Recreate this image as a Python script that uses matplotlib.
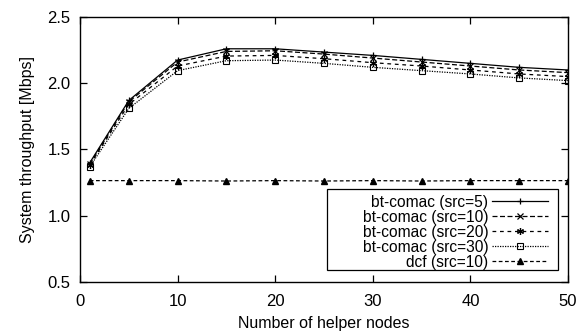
import matplotlib

matplotlib.use("Agg")
import matplotlib.pyplot as plt
from matplotlib.patches import Rectangle

plt.rcParams["font.family"] = ["Liberation Sans", "DejaVu Sans"]

helpers = [1, 5, 10, 15, 20, 25, 30, 35, 40, 45, 50]
comac_src5 = [1.40, 1.87, 2.175, 2.26, 2.26, 2.235, 2.21, 2.18, 2.15, 2.12, 2.10]
comac_src10 = [1.39, 1.86, 2.16, 2.24, 2.245, 2.22, 2.19, 2.16, 2.13, 2.10, 2.08]
comac_src20 = [1.385, 1.84, 2.13, 2.205, 2.21, 2.185, 2.155, 2.13, 2.10, 2.07, 2.05]
comac_src30 = [1.37, 1.81, 2.095, 2.17, 2.175, 2.15, 2.12, 2.095, 2.07, 2.04, 2.02]
dcf_src10 = [1.265, 1.265, 1.265, 1.262, 1.265, 1.262, 1.265, 1.262, 1.265, 1.265, 1.265]

fig = plt.figure(figsize=(5.87, 3.33), dpi=100)
ax = fig.add_axes([0.1363, 0.1532, 0.8313, 0.7958])

ax.plot(helpers, comac_src5, color="black", lw=0.9, ls="-", marker="+", ms=5, mew=0.9,
        label="bt-comac (src=5)")
ax.plot(helpers, comac_src10, color="black", lw=0.9, ls=(0, (4, 2)), marker="x", ms=4, mew=0.9,
        label="bt-comac (src=10)")
ax.plot(helpers, comac_src20, color="black", lw=0.9, ls=(0, (3, 3)), marker=(6, 2, 0), ms=5, mew=0.9,
        label="bt-comac (src=20)")
ax.plot(helpers, comac_src30, color="black", lw=0.9, ls=(0, (1, 1)), marker="s", ms=5, mew=0.8,
        mfc="none", label="bt-comac (src=30)")
ax.plot(helpers, dcf_src10, color="black", lw=0.9, ls=(0, (3, 2)), marker="^", ms=4,
        label="dcf (src=10)")

ax.set_xlim(0, 50)
ax.set_ylim(0.5, 2.5)
ax.set_xticks([0, 10, 20, 30, 40, 50])
ax.set_yticks([0.5, 1.0, 1.5, 2.0, 2.5])
ax.set_yticklabels(["0.5", "1.0", "1.5", "2.0", "2.5"])
ax.tick_params(direction="in", top=True, right=True, length=5, width=0.9, labelsize=12)
ax.tick_params(axis="x", pad=9)
ax.tick_params(axis="y", pad=7)
for spine in ax.spines.values():
    spine.set_linewidth(1.0)

ax.set_xlabel("Number of helper nodes", fontsize=11.5, labelpad=5)
ax.set_ylabel("System throughput [Mbps]", fontsize=11.5, labelpad=9)

# gnuplot-style key: labels right-aligned, samples to the right, wide box
ax.add_patch(Rectangle((0.506, 0.045), 0.4735, 0.306, transform=ax.transAxes,
                       fill=True, facecolor="white", edgecolor="black", lw=0.9, zorder=4))
leg = ax.legend(loc="lower right", bbox_to_anchor=(0.985, 0.0), markerfirst=False,
                fontsize=11.2, frameon=False, handlelength=3.6, labelspacing=0.0,
                borderpad=0.3, handletextpad=0.25)
leg.set_zorder(5)

fig.savefig("out.png", dpi=100)
